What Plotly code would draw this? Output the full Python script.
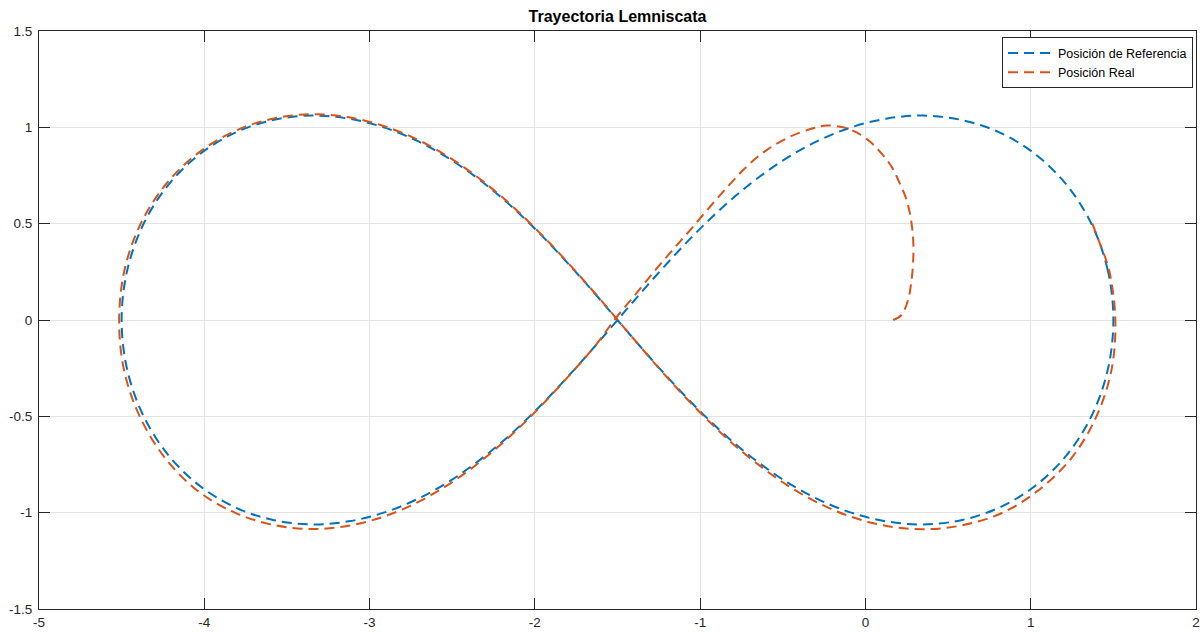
import plotly.graph_objects as go

# Reference lemniscate path (x, y), traversed from the right tip
ref_x = [1.500, 1.466, 1.368, 1.216, 1.024, 0.807, 0.578, 0.349, 0.126, -0.086, -0.285,
         -0.470, -0.643, -0.804, -0.955, -1.098, -1.236, -1.369, -1.500,
         -1.631, -1.764, -1.902, -2.045, -2.196, -2.357, -2.530, -2.715, -2.914, -3.126,
         -3.349, -3.578, -3.807, -4.024, -4.216, -4.368, -4.466, -4.500,
         -4.466, -4.368, -4.216, -4.024, -3.807, -3.578, -3.349, -3.126, -2.914, -2.715,
         -2.530, -2.357, -2.196, -2.045, -1.902, -1.764, -1.631, -1.500,
         -1.369, -1.236, -1.098, -0.955, -0.804, -0.643, -0.470, -0.285, -0.086, 0.126,
         0.349, 0.578, 0.807, 1.024, 1.216, 1.368, 1.466, 1.500]
ref_y = [0.000, 0.259, 0.498, 0.703, 0.863, 0.975, 1.039, 1.061, 1.045, 1.000, 0.931,
         0.844, 0.742, 0.631, 0.512, 0.388, 0.260, 0.131, 0.000,
         -0.131, -0.260, -0.388, -0.512, -0.631, -0.742, -0.844, -0.931, -1.000, -1.045,
         -1.061, -1.039, -0.975, -0.863, -0.703, -0.498, -0.259, 0.000,
         0.259, 0.498, 0.703, 0.863, 0.975, 1.039, 1.061, 1.045, 1.000, 0.931,
         0.844, 0.742, 0.631, 0.512, 0.388, 0.260, 0.131, 0.000,
         -0.131, -0.260, -0.388, -0.512, -0.631, -0.742, -0.844, -0.931, -1.000, -1.045,
         -1.061, -1.039, -0.975, -0.863, -0.703, -0.498, -0.259, 0.000]

# Measured robot position
real_x = [0.168, 0.218, 0.258, 0.279, 0.289, 0.289, 0.273, 0.249, 0.208, 0.158, 0.097,
          0.027, -0.054, -0.135, -0.235, -0.316, -0.457, -0.598, -0.719, -0.825, -0.940,
          -1.055, -1.160, -1.265, -1.380, -1.510,
          -1.634, -1.767, -1.905, -2.048, -2.199, -2.360, -2.533, -2.718, -2.916, -3.127,
          -3.349, -3.580, -3.815, -4.035, -4.232, -4.388, -4.485, -4.515,
          -4.482, -4.383, -4.227, -4.032, -3.812, -3.580, -3.349, -3.124, -2.911, -2.712,
          -2.527, -2.354, -2.193, -2.042, -1.899, -1.761, -1.628, -1.497,
          -1.366, -1.233, -1.095, -0.952, -0.801, -0.640, -0.467, -0.282, -0.084, 0.127,
          0.349, 0.583, 0.822, 1.042, 1.245, 1.395, 1.488, 1.512,
          1.474, 1.418, 1.360]
real_y = [0.000, 0.026, 0.104, 0.208, 0.311, 0.415, 0.536, 0.623, 0.709, 0.796, 0.865,
          0.926, 0.974, 1.000, 1.009, 0.995, 0.951, 0.882, 0.796, 0.700, 0.588,
          0.472, 0.370, 0.265, 0.145, 0.010,
          -0.133, -0.264, -0.394, -0.520, -0.641, -0.755, -0.860, -0.950, -1.021, -1.068,
          -1.085, -1.064, -1.000, -0.890, -0.722, -0.505, -0.262, 0.000,
          0.262, 0.503, 0.710, 0.870, 0.982, 1.046, 1.068, 1.052, 1.006, 0.937,
          0.849, 0.746, 0.634, 0.514, 0.389, 0.260, 0.131, -0.002,
          -0.134, -0.266, -0.396, -0.522, -0.643, -0.756, -0.861, -0.951, -1.022, -1.069,
          -1.086, -1.066, -1.003, -0.887, -0.718, -0.505, -0.262, 0.000,
          0.259, 0.398, 0.528]

# Axis ticks
x_ticks = [-5, -4, -3, -2, -1, 0, 1, 2]
x_tick_text = ["-5", "-4", "-3", "-2", "-1", "0", "1", "2"]
y_ticks = [-1.5, -1, -0.5, 0, 0.5, 1, 1.5]
y_tick_text = ["-1.5", "-1", "-0.5", "0", "0.5", "1", "1.5"]

BLUE = "#0072BD"
ORANGE = "#D95319"
AXIS = "#262626"
FONT = "Liberation Sans, Arial, sans-serif"

fig = go.Figure()
fig.add_trace(go.Scatter(
    x=ref_x, y=ref_y, mode="lines", name="Posición de Referencia",
    line=dict(color=BLUE, width=2, dash="10px,6px", shape="spline", smoothing=1.0),
))
fig.add_trace(go.Scatter(
    x=real_x, y=real_y, mode="lines", name="Posición Real",
    line=dict(color=ORANGE, width=2, dash="10px,6px", shape="spline", smoothing=1.0),
))

axis_common = dict(
    showline=True, linecolor=AXIS, linewidth=1, mirror="ticks",
    ticks="inside", ticklen=11, tickcolor=AXIS, tickwidth=1,
    showgrid=True, gridcolor="#e3e3e3", gridwidth=1, zeroline=False,
    tickfont=dict(family=FONT, size=13.5, color=AXIS), automargin=False,
)

fig.update_layout(
    width=1203, height=632,
    margin=dict(l=39, r=7, t=31, b=23, autoexpand=False),
    paper_bgcolor="white", plot_bgcolor="white",
    title=dict(text="<b>Trayectoria Lemniscata</b>", x=0.5, xref="paper",
               y=1 - 16.5 / 632, yref="container", yanchor="middle", xanchor="center",
               font=dict(family=FONT, size=16, color="black")),
    xaxis=dict(range=[-5, 2], tickvals=x_ticks, ticktext=x_tick_text,
               ticklabelstandoff=1, **axis_common),
    yaxis=dict(range=[-1.5, 1.5], tickvals=y_ticks, ticktext=y_tick_text,
               ticklabelstandoff=3, **axis_common),
    legend=dict(x=0.9974, y=0.9888, xanchor="right", yanchor="top",
                bgcolor="white", bordercolor=AXIS, borderwidth=1,
                font=dict(family=FONT, size=12.5, color="black"),
                tracegroupgap=0, itemwidth=45),
    showlegend=True,
)

fig.write_html("out.html")
